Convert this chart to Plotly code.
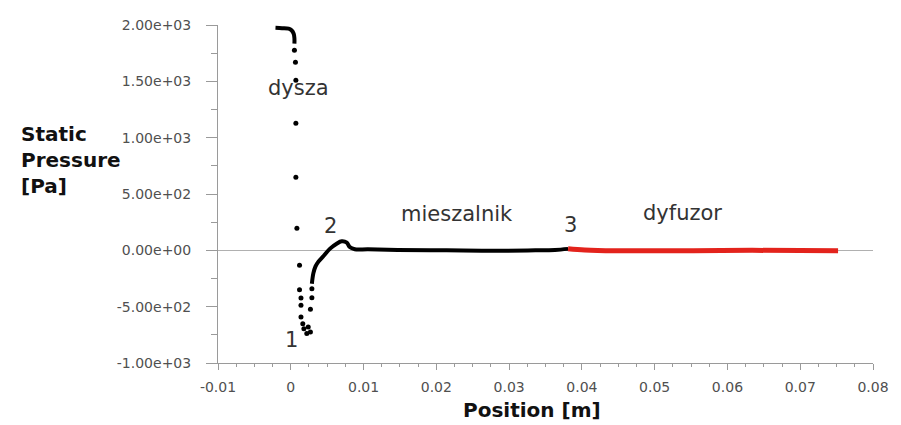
import plotly.graph_objects as go

# Nozzle inlet plateau (continuous curve)
inlet_x = [-0.0021, -0.0012, -0.0003, 0.0001, 0.0004, 0.0005, 0.0005]
inlet_p = [1975, 1972, 1968, 1953, 1923, 1882, 1835]

# Sparse samples through the nozzle throat (point 1 region)
throat_x = [0.0005, 0.00064, 0.0007, 0.0007, 0.0007, 0.00084, 0.0012, 0.0012,
            0.0014, 0.0014, 0.0014, 0.00165, 0.0018, 0.0022, 0.0024, 0.0027,
            0.0027, 0.0029, 0.0029]
throat_p = [1775, 1669, 1509, 1127, 648, 195, -133, -349,
            -423, -488, -592, -651, -695, -739, -681, -725,
            -524, -420, -340]

# Pressure recovery and mixing chamber (black curve)
mixer_x = [0.0029, 0.0031, 0.0034, 0.0038, 0.0045, 0.0054, 0.0063, 0.0070,
           0.0077, 0.0081, 0.0088, 0.0106, 0.0147, 0.0214, 0.0282, 0.0336,
           0.0363, 0.0381]
mixer_p = [-296, -204, -142, -100, -50, 15, 59, 80,
           68, 29, 9, 9, 4, 0, -4, 0,
           4, 13]

# Diffuser (red curve)
diffuser_x = [0.0381, 0.0404, 0.0445, 0.0553, 0.0634, 0.0752]
diffuser_p = [15, 4, -3, -3, 0, -3]

x_ticks = [-0.01, 0, 0.01, 0.02, 0.03, 0.04, 0.05, 0.06, 0.07, 0.08]
x_tick_labels = ["-0.01", "0", "0.01", "0.02", "0.03", "0.04", "0.05", "0.06", "0.07", "0.08"]
y_ticks = [-1000, -500, 0, 500, 1000, 1500, 2000]
y_tick_labels = ["-1.00e+03", "-5.00e+02", "0.00e+00", "5.00e+02", "1.00e+03", "1.50e+03", "2.00e+03"]

# Section labels: (text, x, pressure)
section_text = ["dysza", "1", "2", "mieszalnik", "3", "dyfuzor"]
section_x = [0.0011, 0.00016, 0.00545, 0.0228, 0.0385, 0.0538]
section_p = [1438, -799, 213, 320, 222, 328]

FONT = "DejaVu Sans"
AXIS_GRAY = "#9a9a9a"
TICK_TEXT = "#505050"

fig = go.Figure()
fig.add_trace(go.Scatter(x=inlet_x, y=inlet_p, mode="lines", line=dict(color="black", width=4, shape="spline"),
                         hoverinfo="skip"))
fig.add_trace(go.Scatter(x=throat_x, y=throat_p, mode="markers", marker=dict(color="black", size=5),
                         hoverinfo="skip"))
fig.add_trace(go.Scatter(x=mixer_x, y=mixer_p, mode="lines", line=dict(color="black", width=4, shape="spline"),
                         hoverinfo="skip"))
fig.add_trace(go.Scatter(x=diffuser_x, y=diffuser_p, mode="lines", line=dict(color="#e3231c", width=5, shape="spline"),
                         hoverinfo="skip"))

for t, xv, pv in zip(section_text, section_x, section_p):
    fig.add_annotation(x=xv, y=pv, xref="x", yref="y", text=t, showarrow=False,
                       font=dict(family=FONT, size=21, color="#333333"),
                       xanchor="center", yanchor="middle")

fig.add_annotation(x=0.479, y=-0.139, xref="paper", yref="paper", text="<b>Position [m]</b>",
                   showarrow=False, font=dict(family=FONT, size=20, color="#111111"),
                   xanchor="center", yanchor="middle")
fig.add_annotation(x=-0.304, y=0.60, xref="paper", yref="paper",
                   text="<b>Static<br>Pressure<br>[Pa]</b>", align="left",
                   showarrow=False, font=dict(family=FONT, size=20, color="#111111"),
                   xanchor="left", yanchor="middle")

fig.update_layout(
    width=901, height=425,
    margin=dict(l=218, r=19, t=25, b=62),
    paper_bgcolor="white", plot_bgcolor="white",
    showlegend=False,
    font=dict(family=FONT, size=14, color=TICK_TEXT),
)
fig.update_xaxes(
    range=[-0.01, 0.08], tickmode="array", tickvals=x_ticks, ticktext=x_tick_labels,
    showgrid=False, zeroline=False, showline=True, linecolor=AXIS_GRAY, linewidth=1,
    ticks="outside", ticklen=6, tickcolor=AXIS_GRAY, ticklabelstandoff=5,
    tickfont=dict(family=FONT, size=14, color=TICK_TEXT),
    minor=dict(tickmode="linear", tick0=0, dtick=0.0025, ticks="outside", ticklen=3, tickcolor=AXIS_GRAY),
)
fig.update_yaxes(
    range=[-1000, 2000], tickmode="array", tickvals=y_ticks, ticktext=y_tick_labels,
    showgrid=False, zeroline=True, zerolinecolor="#b0b0b0", zerolinewidth=1,
    showline=True, linecolor=AXIS_GRAY, linewidth=1,
    ticks="outside", ticklen=11, tickcolor=AXIS_GRAY, ticklabelstandoff=12,
    tickfont=dict(family=FONT, size=14, color=TICK_TEXT),
    minor=dict(tickmode="linear", tick0=0, dtick=250, ticks="outside", ticklen=6, tickcolor=AXIS_GRAY),
)

fig.write_html("out.html")
